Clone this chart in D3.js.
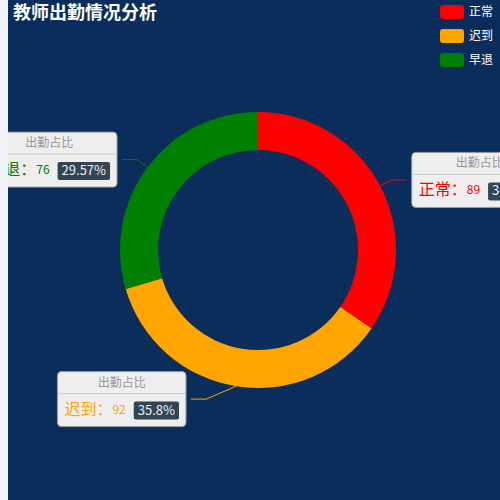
<!DOCTYPE html>
<html lang="zh">
<head>
<meta charset="UTF-8" />
<title>教师出勤情况分析</title>
<script src="https://d3js.org/d3.v7.min.js"></script>
<style>
  html, body { margin: 0; padding: 0; background: #f0f2f7; }
  #chart { position: absolute; left: 8px; top: 0; width: 492px; height: 500px; background: #0b2d5c; overflow: hidden; }
  svg { display: block; font-family: "Microsoft YaHei", "Noto Sans CJK SC", sans-serif; }
</style>
</head>
<body>
<div id="chart"></div>
<script>
  // Données
  const names = ["正常", "迟到", "早退"];
  const values = [89, 92, 76];
  const colors = ["#ff0000", "#ffa500", "#008000"];
  const labelTitle = "出勤占比";
  const title = "教师出勤情况分析";

  const width = 492, height = 500;
  const cx = 250, cy = 250;       // centre du donut (repère du svg)
  const rOuter = 138, rInner = 100;

  const svg = d3.select("#chart").append("svg")
    .attr("width", width)
    .attr("height", height);

  // Titre
  svg.append("text")
    .attr("x", 5)
    .attr("y", 19)
    .attr("fill", "#fff")
    .style("font-size", "18px")
    .style("font-weight", "bold")
    .text(title);

  // Légende
  const legend = svg.append("g").attr("transform", "translate(432,5)");
  names.forEach((n, i) => {
    const g = legend.append("g").attr("transform", `translate(0,${i * 24})`);
    g.append("rect").attr("width", 24).attr("height", 14).attr("rx", 3).attr("fill", colors[i]);
    g.append("text").attr("x", 29).attr("y", 7).attr("dy", "0.35em")
      .attr("fill", "#fff").style("font-size", "12px").text(n);
  });

  // Donut
  const total = d3.sum(values);
  const pie = d3.pie().sort(null).value(d => d);
  const arcs = pie(values);
  const arc = d3.arc().innerRadius(rInner).outerRadius(rOuter);

  const g = svg.append("g").attr("transform", `translate(${cx},${cy})`);
  g.selectAll("path.slice")
    .data(arcs)
    .join("path")
    .attr("class", "slice")
    .attr("d", arc)
    .attr("fill", (d, i) => colors[i]);

  // Étiquettes (style "rich label")
  const len1 = 13, len2 = 15, gap = 5, minDx = 52;
  arcs.forEach((d, i) => {
    const a = (d.startAngle + d.endAngle) / 2;
    const dx = Math.sin(a), dy = -Math.cos(a);
    const p1 = [dx * rOuter, dy * rOuter];
    let p2 = [dx * (rOuter + len1), dy * (rOuter + len1)];
    const side = dx < 0 ? -1 : 1;
    if (Math.abs(p2[0]) < minDx) p2[0] = side * minDx;
    const p3 = [p2[0] + side * len2, p2[1]];

    g.append("polyline")
      .attr("points", [p1, p2, p3].map(p => p.join(",")).join(" "))
      .attr("fill", "none")
      .attr("stroke", colors[i])
      .attr("stroke-width", 1);

    const pct = +(values[i] / total * 100).toFixed(2);
    const box = g.append("g");
    const bg = box.append("rect");
    const sep = box.append("line");
    const head = box.append("text")
      .attr("text-anchor", "middle")
      .attr("fill", "#999")
      .style("font-size", "12px")
      .text(labelTitle);

    const nameT = box.append("text").attr("fill", colors[i]).style("font-size", "16px").text(names[i] + "：");
    const valT = box.append("text").attr("fill", colors[i]).style("font-size", "12px").text(values[i]);
    const pctBg = box.append("rect");
    const pctT = box.append("text").attr("fill", "#eee").style("font-size", "13px").text(pct + "%");

    const padL = 7, padR = 7;
    const wName = nameT.node().getComputedTextLength();
    const wVal = valT.node().getComputedTextLength();
    const wPct = pctT.node().getComputedTextLength() + 8;
    const bw = padL + wName + wVal + 8 + wPct + padR;
    const bh = 55;
    const x0 = side > 0 ? p3[0] + gap : p3[0] - gap - bw;
    const y0 = p3[1] - bh / 2;

    bg.attr("x", x0).attr("y", y0).attr("width", bw).attr("height", bh)
      .attr("rx", 4).attr("fill", "#eee").attr("stroke", "#999").attr("stroke-width", 1);
    sep.attr("x1", x0).attr("x2", x0 + bw).attr("y1", y0 + 22).attr("y2", y0 + 22)
      .attr("stroke", "#ccc").attr("stroke-width", 1);
    head.attr("x", x0 + bw / 2).attr("y", y0 + 15);

    const by = y0 + 43;
    let xx = x0 + padL;
    nameT.attr("x", xx).attr("y", by);
    xx += wName;
    valT.attr("x", xx).attr("y", by - 1);
    xx += wVal + 8;
    pctBg.attr("x", xx).attr("y", by - 13).attr("width", wPct).attr("height", 18)
      .attr("rx", 2).attr("fill", "#334455");
    pctT.attr("x", xx + 4).attr("y", by);
  });
</script>
</body>
</html>
